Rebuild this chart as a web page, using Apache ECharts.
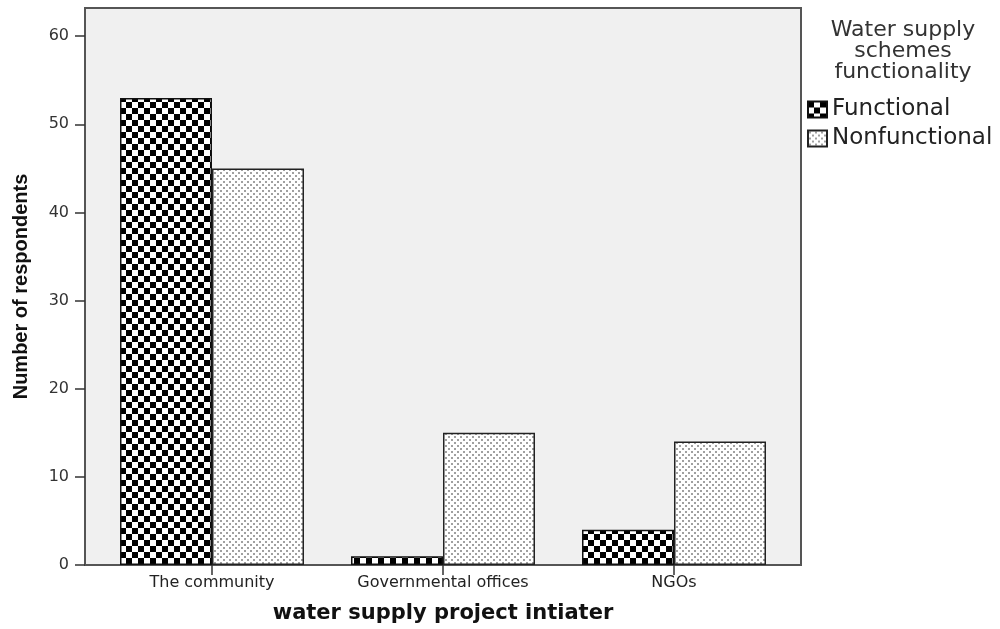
<!DOCTYPE html>
<html>
<head>
<meta charset="utf-8">
<script src="https://cdn.jsdelivr.net/npm/echarts@6/dist/echarts.min.js"></script>
<style>html,body{margin:0;padding:0;background:#fff}#c{width:1000px;height:629px}</style>
</head>
<body>
<div id="c"></div>
<script>
var categories = ['The community', 'Governmental offices', 'NGOs'];
var functional = [53, 1, 4];
var nonfunctional = [45, 15, 14];
var seriesNames = ['Functional', 'Nonfunctional'];
var yTicks = [0, 10, 20, 30, 40, 50, 60];
var legendTitle = 'Water supply\nschemes\nfunctionality';
var xTitle = 'water supply project intiater';
var yTitle = 'Number of respondents';

function checker() {
  var c = document.createElement('canvas'); c.width = 12; c.height = 12;
  var g = c.getContext('2d');
  g.fillStyle = '#fff'; g.fillRect(0, 0, 12, 12);
  g.fillStyle = '#000'; g.fillRect(0, 0, 6, 6); g.fillRect(6, 6, 6, 6);
  return c;
}
function dots() {
  var c = document.createElement('canvas'); c.width = 6; c.height = 6;
  var g = c.getContext('2d');
  g.fillStyle = '#fff'; g.fillRect(0, 0, 6, 6);
  g.fillStyle = '#a0a0a0'; g.fillRect(1, 1, 2, 2); g.fillRect(4, 4, 2, 2);
  return c;
}

var chart = echarts.init(document.getElementById('c'), null, {renderer: 'canvas'});
var yMax = 63.2;
chart.setOption({
  animation: false,
  backgroundColor: '#fff',
  title: {
    text: legendTitle, left: 898, top: 15, textAlign: 'center',
    textStyle: {fontFamily: 'DejaVu Sans', fontSize: 22, fontWeight: 'normal', color: '#333', lineHeight: 21}
  },
  legend: {
    orient: 'vertical', left: 802, top: 93, itemWidth: 19, itemHeight: 16, itemGap: 6,
    icon: 'rect',
    textStyle: {fontFamily: 'DejaVu Sans', fontSize: 23, color: '#222', lineHeight: 20},
    data: seriesNames
  },
  grid: [
    {left: 85, right: 199, top: 8, bottom: 64, show: true, backgroundColor: '#f0f0f0', borderColor: '#555', borderWidth: 2},
    {left: 96.5, right: 210.5, top: 8, bottom: 64}
  ],
  xAxis: [
    {gridIndex: 0, type: 'category', data: categories, show: false},
    {gridIndex: 1, type: 'category', data: categories,
     axisLine: {show: false},
     axisTick: {show: true, alignWithLabel: true, length: 10, lineStyle: {color: '#333', width: 1.5}},
     axisLabel: {fontFamily: 'DejaVu Sans', fontSize: 16, color: '#222', margin: 10},
     name: xTitle, nameLocation: 'middle', nameGap: 38,
     nameTextStyle: {fontFamily: 'DejaVu Sans', fontWeight: 'bold', fontSize: 21, color: '#111'}
    }
  ],
  yAxis: [
    {gridIndex: 0, type: 'value', min: 0, max: yMax, interval: 10,
     axisLine: {show: true, lineStyle: {color: '#555', width: 2}},
     axisTick: {show: true, length: 10, customValues: yTicks, lineStyle: {color: '#333', width: 1.5}},
     axisLabel: {fontFamily: 'DejaVu Sans', fontSize: 16, color: '#333', margin: 16, customValues: yTicks},
     splitLine: {show: false},
     name: yTitle, nameLocation: 'middle', nameGap: 54, nameRotate: 90,
     nameTextStyle: {fontFamily: 'Liberation Sans', fontWeight: 'bold', fontSize: 20, color: '#111'}
    },
    {gridIndex: 1, type: 'value', min: 0, max: yMax, interval: 10, show: false, splitLine: {show: false}}
  ],
  series: [
    {name: seriesNames[0], type: 'bar', xAxisIndex: 1, yAxisIndex: 1, data: functional,
     barWidth: 92, barGap: '0%',
     itemStyle: {color: {image: checker(), repeat: 'repeat'}, borderColor: '#111', borderWidth: 1.5}},
    {name: seriesNames[1], type: 'bar', xAxisIndex: 1, yAxisIndex: 1, data: nonfunctional,
     barWidth: 92, barGap: '0%',
     itemStyle: {color: {image: dots(), repeat: 'repeat'}, borderColor: '#222', borderWidth: 1.5}}
  ]
});
</script>
</body>
</html>
